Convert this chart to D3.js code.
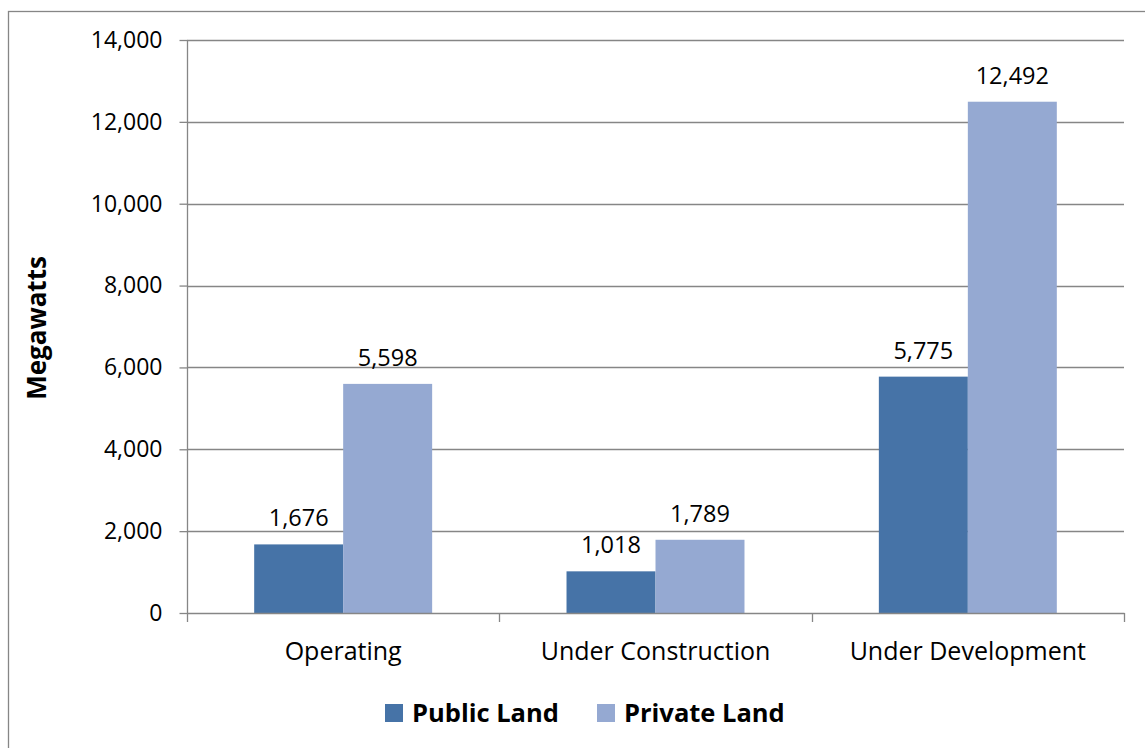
<!DOCTYPE html>
<meta charset="utf-8">
<title>Megawatts by land type</title>
<script src="https://cdn.jsdelivr.net/npm/d3@7"></script>
<style>
  body { margin: 0; background: #fff; }
  text { font-family: "Open Sans", sans-serif; fill: #000; }
</style>
<body>
<svg id="chart" width="1145" height="748"></svg>
<script>

// data
var categories = ["Operating", "Under Construction", "Under Development"];
var seriesNames = ["Public Land", "Private Land"];
var publicLand = [1676, 1018, 5775];
var privateLand = [5598, 1789, 12492];
var yTicks = [0, 2000, 4000, 6000, 8000, 10000, 12000, 14000];

var colors = ["#4673A7", "#95A9D2"];

var svg = d3.select("#chart");

var plotL = 187, plotR = 1124, plotT = 40, plotB = 613;

// outer frame
svg.append("rect")
    .attr("x", 8.5).attr("y", 11.5)
    .attr("width", 1160).attr("height", 760)
    .attr("fill", "none").attr("stroke", "#868686").attr("stroke-width", 1.3);

var x = d3.scaleBand()
    .domain(categories)
    .range([plotL, plotR]);

var xInner = d3.scaleBand()
    .domain(seriesNames)
    .range([0, x.bandwidth()])
    .paddingOuter(0.755)
    .paddingInner(0);

var y = d3.scaleLinear()
    .domain([0, 14000])
    .range([plotB, plotT]);

// gridlines
svg.append("g")
  .selectAll("line")
  .data(yTicks.filter(function(d) { return d > 0; }))
  .join("line")
    .attr("x1", plotL).attr("x2", plotR)
    .attr("y1", function(d) { return Math.round(y(d)) + 0.5; })
    .attr("y2", function(d) { return Math.round(y(d)) + 0.5; })
    .attr("stroke", "#868686").attr("stroke-width", 1.3);

// bars
var rows = categories.map(function(c, i) {
  return { cat: c, values: [publicLand[i], privateLand[i]] };
});

var groups = svg.append("g")
  .selectAll("g")
  .data(rows)
  .join("g")
    .attr("transform", function(d) { return "translate(" + x(d.cat) + ",0)"; });

groups.selectAll("rect")
  .data(function(d) { return d.values.map(function(v, j) { return { name: seriesNames[j], v: v, j: j }; }); })
  .join("rect")
    .attr("x", function(d) { return xInner(d.name); })
    .attr("width", xInner.bandwidth())
    .attr("y", function(d) { return y(d.v); })
    .attr("height", function(d) { return plotB - y(d.v); })
    .attr("fill", function(d) { return colors[d.j]; });

groups.selectAll("text")
  .data(function(d) { return d.values.map(function(v, j) { return { name: seriesNames[j], v: v }; }); })
  .join("text")
    .attr("x", function(d) { return xInner(d.name) + xInner.bandwidth() / 2; })
    .attr("y", function(d) { return y(d.v) - 18; })
    .attr("text-anchor", "middle")
    .style("font-size", "23.5px")
    .text(function(d) { return d3.format(",")(d.v); });

// y axis
var yAxis = svg.append("g")
    .attr("transform", "translate(" + (plotL + 0.5) + ",0)")
    .call(d3.axisLeft(y).tickValues(yTicks).tickSize(8).tickPadding(17).tickFormat(d3.format(",")));
yAxis.select(".domain").attr("stroke", "#868686").attr("stroke-width", 1.3).attr("d", "M0," + plotT + "V" + plotB);
yAxis.selectAll(".tick line").attr("stroke", "#868686").attr("stroke-width", 1.3);
yAxis.selectAll(".tick text").style("font-size", "23px").attr("fill", "#000")
    .style("font-family", "'Open Sans', sans-serif");

// x axis: tick marks at category boundaries
var xAxisG = svg.append("g");
xAxisG.append("line")
    .attr("x1", plotL).attr("x2", plotR + 0.5)
    .attr("y1", plotB + 0.5).attr("y2", plotB + 0.5)
    .attr("stroke", "#868686").attr("stroke-width", 1.3);
var bounds = categories.map(function(c) { return x(c); }).concat([plotR]);
xAxisG.selectAll("line.tk")
  .data(bounds)
  .join("line")
    .attr("class", "tk")
    .attr("x1", function(d) { return Math.round(d) + 0.5; })
    .attr("x2", function(d) { return Math.round(d) + 0.5; })
    .attr("y1", plotB).attr("y2", plotB + 9)
    .attr("stroke", "#868686").attr("stroke-width", 1.3);
xAxisG.selectAll("text")
  .data(categories)
  .join("text")
    .attr("x", function(d) { return x(d) + x.bandwidth() / 2; })
    .attr("y", 660)
    .attr("text-anchor", "middle")
    .style("font-size", "25px")
    .text(function(d) { return d; });

// y axis title
svg.append("text")
    .attr("transform", "translate(46,328) rotate(-90)")
    .attr("text-anchor", "middle")
    .style("font-size", "26px")
    .style("font-weight", "bold")
    .text("Megawatts");

// legend
var legendX = [385, 597];
var legend = svg.append("g")
  .selectAll("g")
  .data(seriesNames)
  .join("g")
    .attr("transform", function(d, i) { return "translate(" + legendX[i] + ",704)"; });
legend.append("rect")
    .attr("width", 18).attr("height", 18)
    .attr("fill", function(d, i) { return colors[i]; });
legend.append("text")
    .attr("x", 27).attr("y", 18)
    .style("font-size", "25.5px")
    .style("font-weight", "bold")
    .text(function(d) { return d; });

</script>
</body>
